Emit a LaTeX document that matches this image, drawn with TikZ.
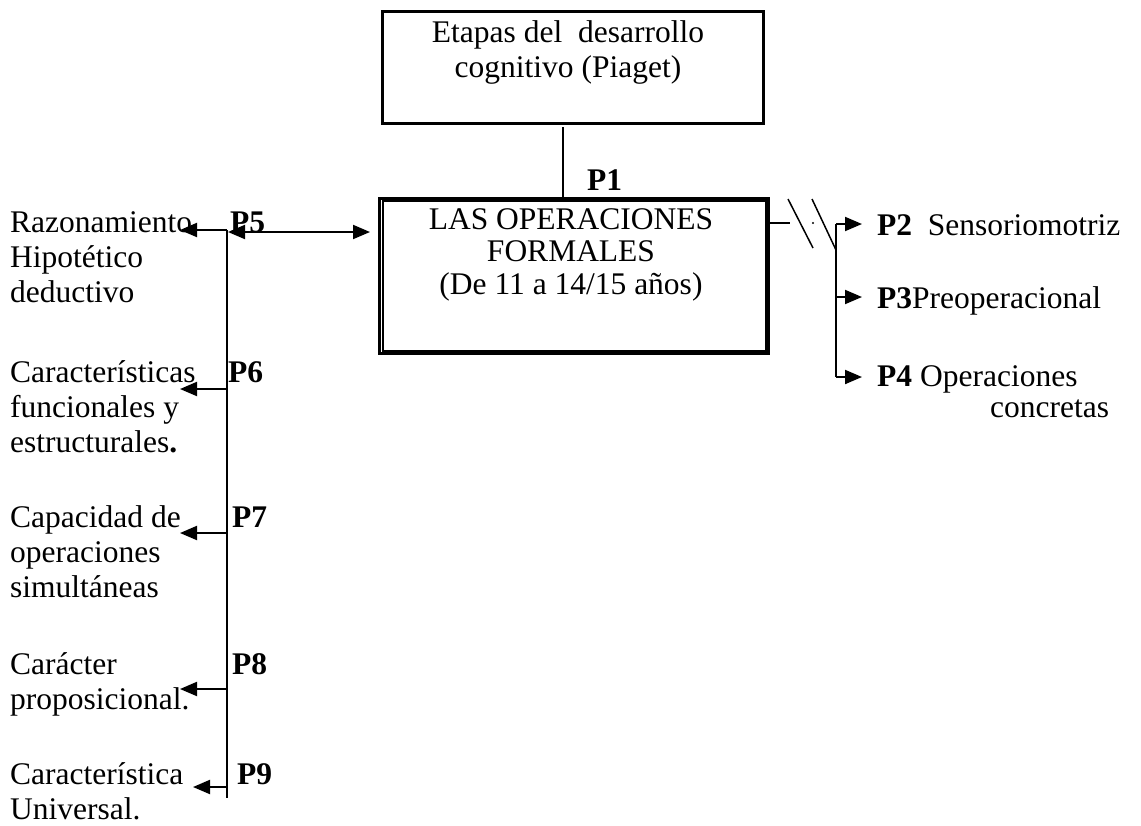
\documentclass[tikz,border=0pt]{standalone}
\usepackage{fontspec}
\setmainfont{Liberation Serif}
\usetikzlibrary{arrows.meta}
\begin{document}
\begin{tikzpicture}[x=1pt,y=-1pt,
  txt/.style={inner sep=0pt, anchor=base west, align=left, font=\fontsize{31.5}{35}\selectfont},
  ctxt/.style={txt, anchor=base, align=center},
  lbl/.style={txt, font=\fontsize{31.5}{35}\selectfont\bfseries},
  ln/.style={line width=2pt},
  arr/.style={ln, -{Triangle[length=17pt,width=14pt]}},
  darr/.style={ln, {Triangle[length=17pt,width=14pt]}-{Triangle[length=17pt,width=14pt]}},
]
\useasboundingbox (0,0) rectangle (1141,825);

% boxes
\node[draw, line width=2.5pt, minimum width=381pt, minimum height=112pt, inner sep=0pt, anchor=north west] (top) at (381,10) {};
\node[ctxt] (toptxt) at (568,77) {Etapas del\ \ desarrollo\\cognitivo (Piaget)};

\node[draw, line width=3pt, minimum width=389pt, minimum height=155pt, inner sep=0pt, anchor=north west] (main) at (378,197) {};
\draw[line width=1.5pt] ([shift={(5,4)}]main.north west) rectangle ([shift={(-4,-4)}]main.south east);
\node[ctxt, font=\fontsize{31.5}{32.5}\selectfont] (maintxt) at (571,294) {LAS OPERACIONES\\FORMALES\\(De 11 a 14/15 años)};

% P1 link
\node[lbl] (p1) at (587,190) {P1};
\coordinate (c1) at (563,127);
\draw[ln] (c1) -- (c1 |- main.north);

% right branch
\coordinate (r0) at (767,223);
\coordinate (r1) at (790,223);
\draw[ln] (r0) -- (r1);
\draw[line width=1.5pt] (788,199) -- (813,248);
\draw[line width=1.5pt] (812,199) -- (836,250);
\fill (813,223) circle (1.2pt);
\coordinate (sr1) at (836,224);
\coordinate (sr2) at (836,297);
\coordinate (sr3) at (836,377);
\coordinate (tr1) at (862,224);
\coordinate (tr2) at (862,297);
\coordinate (tr3) at (862,377);
\draw[ln] (sr3) -- (sr1);
\draw[arr] (sr1) -- (tr1);
\draw[arr] (sr2) -- (tr2);
\draw[arr] (sr3) -- (tr3);
\node[txt] (p2) at (877,235) {\textbf{P2}\ \ Sensoriomotriz};
\node[txt] (p3) at (877,308) {\textbf{P3}Preoperacional};
\node[txt] (p4) at (877,386) {\textbf{P4} Operaciones};
\node[txt] (p4b) at (990,417) {concretas};

% left branch
\coordinate (s5) at (227,230);
\coordinate (s6) at (227,389);
\coordinate (s7) at (227,533);
\coordinate (s8) at (227,689);
\coordinate (s9) at (227,787);
\coordinate (sb) at (227,798);
\draw[ln] (s5) -- (sb);
\coordinate (t5) at (180,230);
\coordinate (t6) at (180,389);
\coordinate (t7) at (180,533);
\coordinate (t8) at (180,689);
\coordinate (t9) at (193,787);
\draw[arr] (s5) -- (t5);
\draw[arr] (s6) -- (t6);
\draw[arr] (s7) -- (t7);
\draw[arr] (s8) -- (t8);
\draw[arr] (s9) -- (t9);
\coordinate (d5a) at (228,232);
\coordinate (d5b) at (370,232);
\draw[darr] (d5a) -- (d5b);

\node[txt] (n5) at (10,302) {Razonamiento\\Hipotético\\deductivo};
\node[txt] (n6) at (10,452) {Características\\funcionales y\\estructurales\textbf{.}};
\node[txt] (n7) at (10,597) {Capacidad de\\operaciones\\simultáneas};
\node[txt] (n8) at (10,709) {Carácter\\proposicional.};
\node[txt] (n9) at (10,819) {Característica\\Universal.};

\node[lbl] (p5) at (230,232) {P5};
\node[lbl] (p6) at (228,382) {P6};
\node[lbl] (p7) at (232,527) {P7};
\node[lbl] (p8) at (232,674) {P8};
\node[lbl] (p9) at (237,784) {P9};
\end{tikzpicture}
\end{document}
